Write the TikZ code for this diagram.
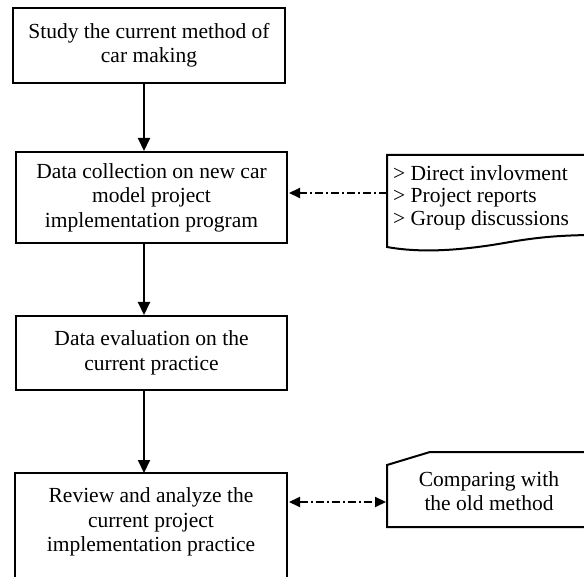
\documentclass[tikz,border=0pt]{standalone}
\usepackage{fontspec}
\setmainfont{Liberation Serif}
\usetikzlibrary{arrows.meta}
\begin{document}
\begin{tikzpicture}[x=1pt,y=-1pt,
  stepbox/.style={draw,line width=2pt,align=center,inner sep=0pt,font=\fontsize{21.5}{24.5}\selectfont},
  txt/.style={align=center,inner sep=0pt,font=\fontsize{21.5}{24.5}\selectfont},
  flow/.style={line width=2pt,-{Triangle[width=12pt,length=13pt]}},
  dd/.style={line width=2pt,dash pattern=on 8pt off 3pt on 2pt off 3pt},
  shapeline/.style={line width=2pt,line join=miter}]
\useasboundingbox (0,0) rectangle (584,577);
\clip (0,0) rectangle (584,577);
% boxes
\node[stepbox,minimum width=272pt,minimum height=75pt] (b1) at (149,45.5) {Study the current method of\\car making};
\node[stepbox,minimum width=271pt,minimum height=91pt] (b2) at (151.5,197.5) {Data collection on new car\\model project\\implementation program};
\node[stepbox,minimum width=271pt,minimum height=74pt] (b3) at (151.5,353) {Data evaluation on the\\current practice};
\node[txt] (b4) at (151,522) {Review and analyze the\\current project\\implementation practice};
\draw[shapeline] (15,600) -- (15,473) -- (287,473) -- (287,600);
\coordinate (b4n) at (144,473);
\coordinate (b4e) at (289,502);
% document shape
\node[align=left,inner sep=0pt,anchor=west,font=\fontsize{21.5}{22.5}\selectfont] (doc) at (393,197.5) {> Direct invlovment\\> Project reports\\> Group discussions};
\draw[shapeline] (600,155) -- (387,155) -- (387,247) .. controls (420,253) and (460,251) .. (510,242) .. controls (545,236) and (570,235) .. (600,235);
\coordinate (docw) at (387,193);
% comparing shape
\node[txt] (cmp) at (489,491) {Comparing with\\the old method};
\draw[shapeline] (600,452) -- (430,452) -- (387,465) -- (387,527) -- (600,527);
\coordinate (cmpw) at (386,502);
% connectors
\draw[flow] (b1.south -| b4n) -- (b2.north -| b4n);
\draw[flow] (b2.south -| b4n) -- (b3.north -| b4n);
\draw[flow] (b3.south -| b4n) -- (b4n);
\draw[dd,-{Triangle[width=10pt,length=11pt]}] (docw) -- ([yshift=4.5pt,xshift=1pt]b2.east);
\draw[dd,{Triangle[width=10pt,length=11pt]}-{Triangle[width=10pt,length=11pt]}] (b4e) -- (cmpw);
\end{tikzpicture}
\end{document}
